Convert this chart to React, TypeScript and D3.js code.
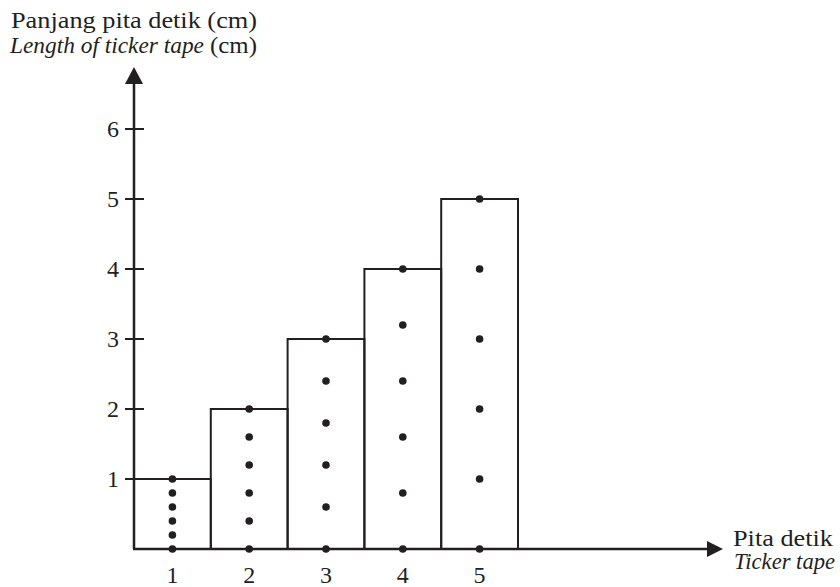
import React from "react";
import * as d3 from "d3";

const tapes = ["1", "2", "3", "4", "5"];
const lengths = [1, 2, 3, 4, 5];
const dots1 = [0, 0.2, 0.4, 0.6, 0.8, 1.0];
const dots2 = [0, 0.4, 0.8, 1.2, 1.6, 2.0];
const dots3 = [0, 0.6, 1.2, 1.8, 2.4, 3.0];
const dots4 = [0, 0.8, 1.6, 2.4, 3.2, 4.0];
const dots5 = [0, 1, 2, 3, 4, 5];
const dotSets = [dots1, dots2, dots3, dots4, dots5];
const yTicks = [1, 2, 3, 4, 5, 6];

const W = 840;
const H = 587;
const ink = "#231f20";
const font = "Liberation Serif";

export default function App() {
  const x0 = 134;
  const y0 = 549;
  const y = d3.scaleLinear().domain([0, 6]).range([y0, 129]);
  const x = d3.scaleBand<string>().domain(tapes).range([x0, 518]).paddingInner(0).paddingOuter(0);

  return (
    <svg width={W} height={H} style={{ position: "absolute", left: 0, top: 0 }} fontFamily={font}>
      {/* bars */}
      {tapes.map((t, i) => (
        <rect
          key={t}
          x={x(t)}
          y={y(lengths[i])}
          width={x.bandwidth()}
          height={y(0) - y(lengths[i])}
          fill="none"
          stroke={ink}
          strokeWidth={2}
        />
      ))}
      {/* dots */}
      {tapes.map((t, i) =>
        dotSets[i].map((v, j) => (
          <circle key={t + "-" + j} cx={(x(t) as number) + x.bandwidth() / 2} cy={y(v)} r={3.8} fill={ink} />
        ))
      )}
      {/* y axis */}
      <line x1={x0} y1={y0} x2={x0} y2={80} stroke={ink} strokeWidth={2.5} />
      <path d={`M${x0},67 L${x0 - 9},84 L${x0 + 9},84 Z`} fill={ink} />
      {/* x axis */}
      <line x1={x0 - 1} y1={y0} x2={712} y2={y0} stroke={ink} strokeWidth={2.5} />
      <path d={`M723,${y0} L707,${y0 - 8} L707,${y0 + 8} Z`} fill={ink} />
      {/* y ticks */}
      {yTicks.map((v) => (
        <g key={v}>
          <line x1={x0 - 9} x2={x0 + 10} y1={y(v)} y2={y(v)} stroke={ink} strokeWidth={2} />
          <text x={119} y={y(v) + 8} textAnchor="end" fontSize={24} fill={ink}>
            {v}
          </text>
        </g>
      ))}
      {/* x tick labels */}
      {tapes.map((t) => (
        <text key={t} x={(x(t) as number) + x.bandwidth() / 2} y={583} textAnchor="middle" fontSize={24} fill={ink}>
          {t}
        </text>
      ))}
      {/* y axis title */}
      <text x={11} y={28} fontSize={24} fill={ink} textLength={246} lengthAdjust="spacingAndGlyphs">
        Panjang pita detik (cm)
      </text>
      <text x={10} y={53} fontSize={24} fontStyle="italic" fill={ink} textLength={194} lengthAdjust="spacingAndGlyphs">
        Length of ticker tape
      </text>
      <text x={210} y={53} fontSize={24} fill={ink} textLength={47} lengthAdjust="spacingAndGlyphs">
        (cm)
      </text>
      {/* x axis title */}
      <text x={733} y={546} fontSize={23} fill={ink} textLength={100} lengthAdjust="spacingAndGlyphs">
        Pita detik
      </text>
      <text x={734} y={569} fontSize={23} fontStyle="italic" fill={ink} textLength={101} lengthAdjust="spacingAndGlyphs">
        Ticker tape
      </text>
    </svg>
  );
}
